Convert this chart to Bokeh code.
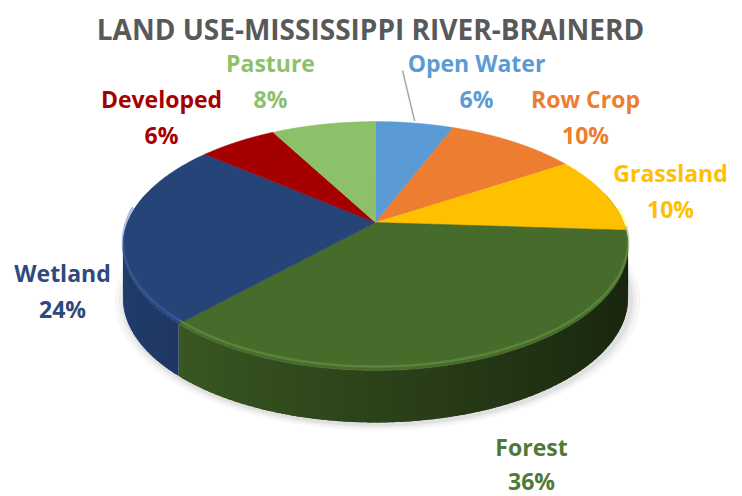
import numpy as np
from bokeh.plotting import figure
from bokeh.models import Range1d
from bokeh.core.properties import value
from bokeh.embed import file_html
from bokeh.resources import INLINE

# ---------------- data ----------------
title_text = "LAND USE-MISSISSIPPI RIVER-BRAINERD"
categories = ["Open Water", "Row Crop", "Grassland", "Forest", "Wetland", "Developed", "Pasture"]
shares = [6, 10, 10, 36, 24, 6, 8]

# ---------------- styles ----------------
top_colors = ["#5B9BD5", "#ED7D31", "#FFC000", "#466B2A", "#264478", "#A50000", "#8CC169"]
label_colors = ["#5B9BD5", "#ED7D31", "#FFC000", "#4F7A35", "#2E4A7D", "#A50000", "#8DC16B"]
# label centre x, name y, percent y (page pixels)
label_layout = {
    "Open Water": (476, 62, 98),
    "Row Crop": (585, 98, 134),
    "Grassland": (670, 172, 208),
    "Forest": (531, 446, 480),
    "Wetland": (62, 272, 308),
    "Developed": (161, 98, 134),
    "Pasture": (270, 62, 98),
}
FONT = "Open Sans"

# pie geometry (perspective ellipse)
cx, cy, sx, sy, k, depth = 375, 222, 248, 120, 0.189, 52

W, H = 742, 496


def proj(theta):
    u = np.sin(theta)
    v = np.cos(theta)
    d = 1 + k * v
    return cx + sx * u / d, cy - sy * v / d


def hex_rgb(h):
    h = h.lstrip("#")
    return np.array([int(h[i:i + 2], 16) for i in (0, 2, 4)], dtype=float)


def rgb_hex(c):
    c = np.clip(c, 0, 255).astype(int)
    return "#%02x%02x%02x" % tuple(c)


p = figure(width=W, height=H, x_range=Range1d(0, W), y_range=Range1d(H, 0),
           output_backend="svg", toolbar_location=None, min_border=0,
           x_axis_location=None, y_axis_location=None)
p.grid.visible = False
p.outline_line_color = None
p.background_fill_color = "white"
p.border_fill_color = "white"

total = float(sum(shares))
cum = np.concatenate([[0], np.cumsum(shares)]) / total * 2 * np.pi

# soft shadow
full = np.linspace(0, 2 * np.pi, 361)
fx, fy = proj(full)
for grow, alpha in [(10, 0.03), (6, 0.04), (3, 0.05)]:
    scale = 1 + grow / 250.0
    p.patch(cx + (fx - cx) * scale + 2, cy + (fy - cy) * scale + depth + 2,
            fill_color="#000000", fill_alpha=alpha, line_color=None)

# side faces (small overlapping quads for a smooth shading)
side_xs, side_ys, side_cols = [], [], []
ov = np.radians(0.6)
for i in range(len(shares)):
    a0, a1 = cum[i], cum[i + 1]
    n = max(2, int(np.degrees(a1 - a0) / 1.5))
    th = np.linspace(a0, a1, n + 1)
    base = hex_rgb(top_colors[i])
    for j in range(n):
        tm = 0.5 * (th[j] + th[j + 1])
        if np.cos(tm) > 0.25:
            continue
        lo = th[j] - (ov if j > 0 else 0)
        hi = th[j + 1] + (ov if j < n - 1 else 0)
        tt = np.linspace(lo, hi, 4)
        X, Y = proj(tt)
        f = np.clip(0.62 - 0.28 * np.sin(tm), 0.3, 1.0)
        side_xs.append(np.concatenate([X, X[::-1]]).tolist())
        side_ys.append(np.concatenate([Y, (Y + depth)[::-1]]).tolist())
        side_cols.append(rgb_hex(base * f))
p.patches(side_xs, side_ys, fill_color=side_cols, line_color=None)

# top faces
top_xs, top_ys = [], []
for i in range(len(shares)):
    th = np.linspace(cum[i], cum[i + 1], 120)
    X, Y = proj(th)
    top_xs.append(np.concatenate([[cx], X]).tolist())
    top_ys.append(np.concatenate([[cy], Y]).tolist())
p.patches(top_xs, top_ys, fill_color=top_colors, line_color=top_colors, line_width=0.5)

# bevel highlight along the near rim
hl_xs, hl_ys, hl_cols = [], [], []
for i in range(len(shares)):
    th = np.linspace(cum[i], cum[i + 1], 120)
    th = th[np.cos(th) < 0.1]
    if len(th) < 2:
        continue
    X, Y = proj(th)
    hl_xs.append(X.tolist())
    hl_ys.append((Y - 4).tolist())
    hl_cols.append(rgb_hex(hex_rgb(top_colors[i]) * 1.35 + 20))
p.multi_line(hl_xs, hl_ys, line_color=hl_cols, line_width=2.5, line_alpha=0.45)

# title
p.text([370], [28], text=[title_text], text_font=value(FONT), text_font_style="bold",
       text_font_size="28px", text_color="#595959", text_align="center",
       text_baseline="middle")

# labels
for i, cat in enumerate(categories):
    lx, ny, py = label_layout[cat]
    p.text([lx, lx], [ny, py], text=[cat, f"{shares[i]}%"], text_font=value(FONT),
           text_font_style="bold", text_font_size="23px", text_color=label_colors[i],
           text_align="center", text_baseline="middle")

# leader line for Open Water
i0 = categories.index("Open Water")
mx, my = proj(0.5 * (cum[i0] + cum[i0 + 1]))
lx, ny, py = label_layout["Open Water"]
p.line([lx - 74, float(mx)], [ny + 8, float(my) - 2], line_color="#A6A6A6", line_width=1.5)

open("out.html", "w").write(file_html(p, INLINE))
